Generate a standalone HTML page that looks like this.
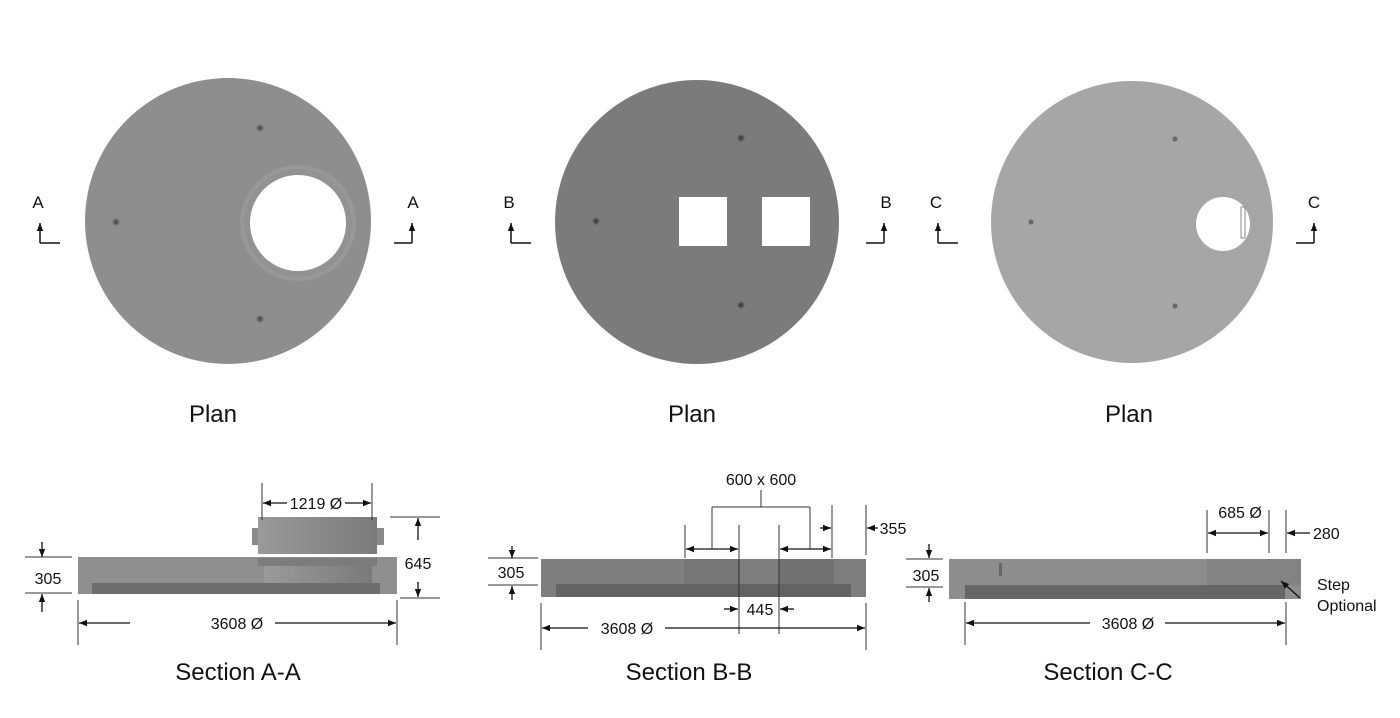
<!DOCTYPE html>
<html><head><meta charset="utf-8"><style>
html,body{margin:0;padding:0;background:#fff;}
svg{display:block;font-family:"Liberation Sans","DejaVu Sans",sans-serif;}
</style></head><body>
<svg width="1400" height="718" viewBox="0 0 1400 718" xmlns="http://www.w3.org/2000/svg">
<defs>
<marker id="ar" viewBox="0 0 10 10" refX="10" refY="5" markerWidth="9" markerHeight="8" orient="auto-start-reverse" markerUnits="userSpaceOnUse"><path d="M0,1 L10,5 L0,9 z" fill="#111"/></marker>
<linearGradient id="rg" x1="0" x2="1"><stop offset="0" stop-color="#9a9a9a"/><stop offset="1" stop-color="#7a7a7a"/></linearGradient>
</defs>
<rect width="1400" height="718" fill="#fff"/>

<!-- Plan A -->
<circle cx="228" cy="221" r="143" fill="#8e8e8e"/>
<circle cx="298" cy="223" r="58" fill="#989898"/>
<circle cx="298" cy="223" r="54" fill="#929292"/>
<circle cx="298" cy="223" r="48" fill="#fff"/>
<g fill="#555" stroke="#777" stroke-width="1.5"><circle cx="260" cy="128" r="3"/><circle cx="116" cy="222" r="3"/><circle cx="260" cy="319" r="3"/></g>
<!-- Plan B -->
<circle cx="697" cy="222" r="142" fill="#7b7b7b"/>
<rect x="679" y="197" width="48" height="49" fill="#fff"/>
<rect x="762" y="197" width="48" height="49" fill="#fff"/>
<g fill="#444" stroke="#666" stroke-width="1.5"><circle cx="741" cy="138" r="3"/><circle cx="596" cy="221" r="3"/><circle cx="741" cy="305" r="3"/></g>
<!-- Plan C -->
<circle cx="1132" cy="222" r="141" fill="#a6a6a6"/>
<circle cx="1223" cy="224" r="27" fill="#fff"/>
<rect x="1241" y="207" width="4" height="31" fill="#fff" stroke="#888" stroke-width="1"/>
<g fill="#666" stroke="#888" stroke-width="1"><circle cx="1175" cy="139" r="2.5"/><circle cx="1031" cy="222" r="2.5"/><circle cx="1175" cy="306" r="2.5"/></g>

<!-- section markers -->
<g stroke="#111" stroke-width="1.5" fill="none">
<path d="M40,243 H60 M40,243 V223" marker-end="url(#ar)"/>
<path d="M394,243 H412 M412,243 V223" marker-end="url(#ar)"/>
<path d="M511,243 H531 M511,243 V223" marker-end="url(#ar)"/>
<path d="M866,243 H884 M884,243 V223" marker-end="url(#ar)"/>
<path d="M938,243 H958 M938,243 V223" marker-end="url(#ar)"/>
<path d="M1296,243 H1314 M1314,243 V223" marker-end="url(#ar)"/>
</g>
<g font-size="17" fill="#111" text-anchor="middle">
<text x="38" y="208">A</text><text x="413" y="208">A</text>
<text x="509" y="208">B</text><text x="886" y="208">B</text>
<text x="936" y="208">C</text><text x="1314" y="208">C</text>
</g>
<g font-size="24" fill="#111" text-anchor="middle">
<text x="213" y="422">Plan</text><text x="692" y="422">Plan</text><text x="1129" y="422">Plan</text>
<text x="238" y="680">Section A-A</text><text x="689" y="680">Section B-B</text><text x="1108" y="680">Section C-C</text>
</g>

<!-- Section A -->
<rect x="78" y="557" width="319" height="37" fill="#8f8f8f"/>
<rect x="92" y="583" width="288" height="11" fill="#6e6e6e"/>
<rect x="258" y="558" width="119" height="8" fill="#7c7c7c"/>
<rect x="264" y="566" width="108" height="17" fill="url(#rg)"/>
<rect x="252" y="528" width="132" height="17" fill="#8a8a8a"/>
<rect x="258" y="517" width="119" height="37" fill="url(#rg)"/>
<g stroke="#333" stroke-width="1" fill="none">
<path d="M25,557 H72 M25,593 H72"/>
<path d="M78,600 V645 M397,600 V645"/>
<path d="M262,483 V520 M372,483 V520"/>
<path d="M390,517 H440 M400,598 H440"/>
</g>
<g stroke="#111" stroke-width="1.3" fill="none">
<path d="M42,542 V557" marker-end="url(#ar)"/><path d="M42,612 V594" marker-end="url(#ar)"/>
<path d="M130,623 H79" marker-end="url(#ar)"/><path d="M275,623 H396" marker-end="url(#ar)"/>
<path d="M287,503 H263" marker-end="url(#ar)"/><path d="M345,503 H371" marker-end="url(#ar)"/>
<path d="M418,540 V518" marker-end="url(#ar)"/><path d="M418,582 V597" marker-end="url(#ar)"/>
</g>
<g font-size="16" fill="#111" text-anchor="middle">
<text x="48" y="584">305</text><text x="237" y="629">3608 Ø</text>
<text x="316" y="509">1219 Ø</text><text x="418" y="569">645</text>
</g>

<!-- Section B -->
<rect x="541" y="559" width="325" height="38" fill="#7e7e7e"/>
<rect x="684" y="559" width="55" height="25" fill="#767676"/>
<rect x="779" y="559" width="55" height="25" fill="#717171"/>
<rect x="556" y="584" width="295" height="13" fill="#636363"/>
<g stroke="#333" stroke-width="1" fill="none">
<path d="M488,558 H538 M488,585 H538"/>
<path d="M541,603 V650 M866,603 V650"/>
<path d="M685,525 V558 M739,525 V634 M779,525 V634 M832,505 V558 M866,505 V555"/>
<path d="M761,490 V507 M712,507 H810 M712,507 V549 M810,507 V549"/>
</g>
<g stroke="#111" stroke-width="1.3" fill="none">
<path d="M512,546 V558" marker-end="url(#ar)"/><path d="M512,600 V586" marker-end="url(#ar)"/>
<path d="M712,549 H686" marker-end="url(#ar)"/><path d="M712,549 H738" marker-end="url(#ar)"/>
<path d="M810,549 H780" marker-end="url(#ar)"/><path d="M810,549 H831" marker-end="url(#ar)"/>
<path d="M820,528 H831" marker-end="url(#ar)"/><path d="M878,528 H867" marker-end="url(#ar)"/>
<path d="M724,609 H738" marker-end="url(#ar)"/><path d="M794,609 H780" marker-end="url(#ar)"/>
<path d="M588,628 H542" marker-end="url(#ar)"/><path d="M665,628 H865" marker-end="url(#ar)"/>
</g>
<g font-size="16" fill="#111" text-anchor="middle">
<text x="761" y="485">600 x 600</text><text x="893" y="534">355</text>
<text x="511" y="578">305</text><text x="760" y="615">445</text><text x="627" y="634">3608 Ø</text>
</g>

<!-- Section C -->
<rect x="949" y="559" width="352" height="40" fill="#8d8d8d"/>
<rect x="1207" y="559" width="94" height="26" fill="#838383"/>
<rect x="965" y="585" width="320" height="14" fill="#666"/>
<rect x="999" y="563" width="3" height="13" fill="#666"/>
<g stroke="#333" stroke-width="1" fill="none">
<path d="M906,559 H943 M906,587 H943"/>
<path d="M965,602 V645 M1286,602 V645"/>
<path d="M1207,510 V553 M1269,510 V553 M1286,510 V553"/>
</g>
<g stroke="#111" stroke-width="1.3" fill="none">
<path d="M929,544 V558" marker-end="url(#ar)"/><path d="M929,602 V588" marker-end="url(#ar)"/>
<path d="M1238,533 H1208" marker-end="url(#ar)"/><path d="M1238,533 H1268" marker-end="url(#ar)"/>
<path d="M1310,533 H1287" marker-end="url(#ar)"/>
<path d="M1090,623 H966" marker-end="url(#ar)"/><path d="M1165,623 H1285" marker-end="url(#ar)"/>
<path d="M1300,598 L1281,581" marker-end="url(#ar)"/>
</g>
<g font-size="16" fill="#111" text-anchor="middle">
<text x="926" y="581">305</text><text x="1240" y="518">685 Ø</text>
<text x="1128" y="629">3608 Ø</text>
</g>
<g font-size="16" fill="#111"><text x="1313" y="539">280</text>
<text x="1317" y="590">Step</text><text x="1317" y="611">Optional</text></g>
</svg>
</body></html>
